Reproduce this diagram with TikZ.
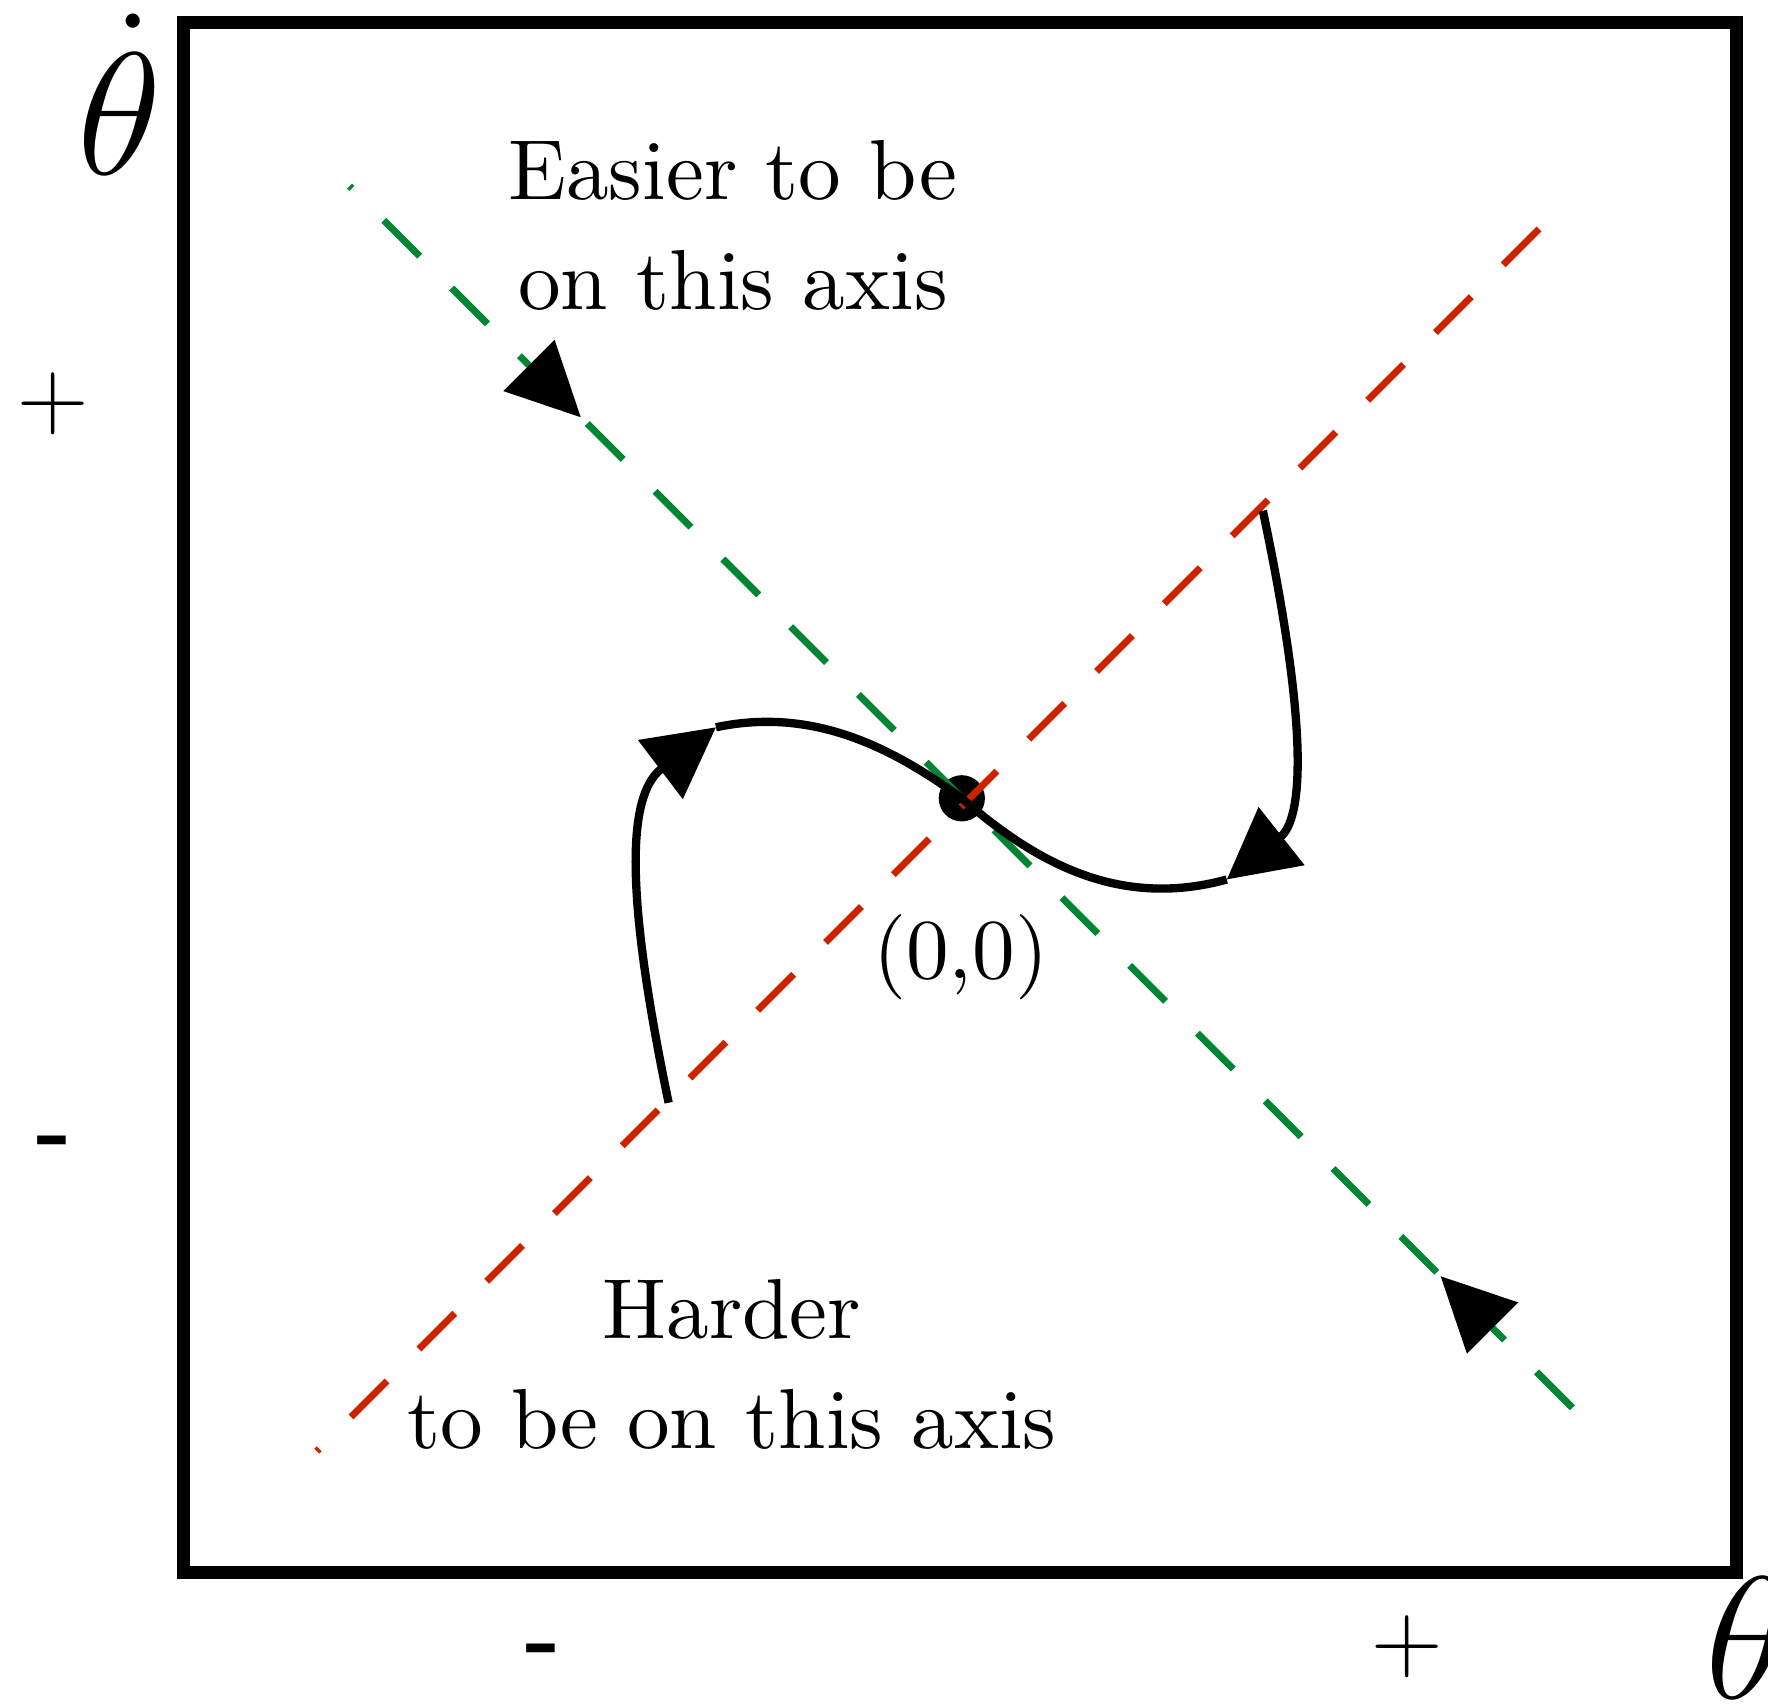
\RequirePackage{fix-cm}
\documentclass[tikz,border=0pt]{standalone}
\usepackage{tikz}
\usetikzlibrary{arrows.meta, positioning, decorations.markings}
\definecolor{mygreen}{RGB}{0, 133, 50}
\definecolor{myred}{RGB}{204, 34, 0}
\newcommand{\bigtxt}[1]{\scalebox{2.15}{\fontsize{10}{12}\selectfont #1}}

\begin{document}
\begin{tikzpicture}[
    axis/.style={line width=1.75pt, dash pattern=on 0.45cm off 0.40cm, dash phase=0.42cm},
    traj/.style={line width=2.1pt, -{Triangle[length=0.62cm,width=0.64cm]}},
    flow/.style={decorate, decoration={markings,
        mark=at position #1 with {\arrow{Triangle[length=0.65cm,width=0.64cm]}}}},
    lbl/.style={font=\fontsize{21.5}{27.6}\selectfont, align=center, inner sep=0pt},
    sgn/.style={font=\fontsize{25}{30}\selectfont, inner sep=0pt},
    big/.style={font=\fontsize{44}{52}\selectfont, inner sep=0pt, anchor=base}]
  \useasboundingbox (0,0) rectangle (15.68,15.12);
  \draw[line width=3.3pt] (1.63,1.17) rectangle (15.40,14.92);

  \coordinate (gs) at (3.10,13.47);
  \coordinate (ge) at (13.98,2.60);
  \coordinate (rs) at (2.81,2.25);
  \coordinate (re) at (13.68,13.12);
  \node[circle,fill,inner sep=0pt,minimum size=0.41cm] (o) at (8.53,8.04) {};
  \draw[axis,mygreen] (gs) -- (ge);
  \draw[axis,myred] (rs) -- (re);
  \path[flow=2.9cm] (gs) -- (o.center);
  \path[flow=1.7cm] (ge) -- (o.center);

  \coordinate (la) at (5.93,5.34);
  \coordinate (lt) at (6.35,8.67);
  \coordinate (ra) at (11.20,10.59);
  \coordinate (rt) at (10.88,7.32);
  \draw[traj] (la) .. controls (5.5,7.4) and (5.6,8.1) .. (lt);
  \draw[traj] (ra) .. controls (11.62,8.6) and (11.55,7.85) .. (rt);
  \draw[line width=2.1pt] (lt) .. controls (7.2,8.85) and (7.9,8.5) .. (o.center)
        .. controls (9.15,7.5) and (9.9,7.05) .. (rt);

  \node[lbl] (easy) at (6.50,13.12) {\bigtxt{Easier to be}\\\bigtxt{on this axis}};
  \node[lbl] (hard) at (6.49,3.02) {\bigtxt{Harder}\\\bigtxt{to be on this axis}};
  \node[lbl,anchor=base] (orig) at (8.52,6.44) {\bigtxt{(0,0)}};

  \node[big] (thd) at (1.06,13.57) {$\dot{\theta}$};
  \node[big] (th) at (15.50,0.06) {$\theta$};
  \node[sgn] (yp) at (0.47,11.54) {$+$};
  \node[sgn] (xp) at (12.48,0.52) {$+$};
  \node[sgn,font=\fontsize{24}{30}\selectfont\bfseries] (ym) at (0.48,4.93) {-};
  \node[sgn,font=\fontsize{24}{30}\selectfont\bfseries] (xm) at (4.82,0.43) {-};
\end{tikzpicture}
\end{document}
